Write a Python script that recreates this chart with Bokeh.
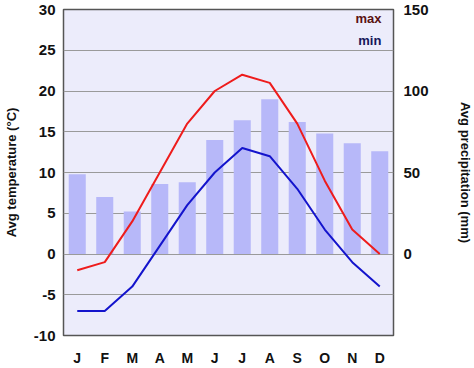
from bokeh.plotting import figure
from bokeh.models import Range1d, LinearAxis, FixedTicker, Label
from bokeh.embed import file_html
from bokeh.resources import INLINE

months = ["J", "F", "M", "A", "M", "J", "J", "A", "S", "O", "N", "D"]
month_idx = list(range(1, 13))
temp_max = [-2, -1, 4, 10, 16, 20, 22, 21, 16, 9, 3, 0]
temp_min = [-7, -7, -4, 1, 6, 10, 13, 12, 8, 3, -1, -4]
precip = [49, 35, 26, 43, 44, 70, 82, 95, 81, 74, 68, 63]
temp_ticks = [-10, -5, 0, 5, 10, 15, 20, 25, 30]
precip_ticks = [0, 50, 100, 150]

FONT = "Liberation Sans"

p = figure(frame_width=330, frame_height=326,
           x_range=Range1d(0.5, 12.5), y_range=Range1d(-10, 30),
           output_backend="svg", toolbar_location=None,
           min_border_left=62, min_border_top=9, min_border_right=72, min_border_bottom=30)
p.margin = (0, 0, 0, 0)
p.extra_y_ranges = {"precip": Range1d(-50, 150)}

p.border_fill_color = "#ffffff"
p.background_fill_color = "#ececfb"
p.outline_line_color = "#555555"
p.outline_line_width = 1.5

p.xgrid.grid_line_color = None
p.ygrid.ticker = FixedTicker(ticks=temp_ticks)
p.ygrid.grid_line_color = "#9a9a9a"
p.ygrid.grid_line_width = 1

p.vbar(x=month_idx, top=precip, bottom=0, width=0.62, y_range_name="precip",
       fill_color="#b7b8f9", line_color=None)
p.line(month_idx, temp_max, line_color="#ee1c1c", line_width=2)
p.line(month_idx, temp_min, line_color="#1414cc", line_width=2)

def style_axis(ax, fs):
    ax.axis_line_color = None
    ax.major_tick_line_color = None
    ax.minor_tick_line_color = None
    ax.major_tick_out = 0
    ax.major_tick_in = 0
    ax.major_label_text_font = FONT
    ax.major_label_text_font_style = "bold"
    ax.major_label_text_font_size = fs
    ax.major_label_text_color = "#111111"
    ax.axis_label_text_font = FONT
    ax.axis_label_text_font_style = "bold"
    ax.axis_label_text_font_size = "13px"
    ax.axis_label_text_color = "#111111"

# x axis
xa = p.xaxis[0]
xa.ticker = FixedTicker(ticks=month_idx)
xa.major_label_overrides = {i: m for i, m in zip(month_idx, months)}
style_axis(xa, "14px")
xa.major_label_standoff = 14

# left axis
ya = p.yaxis[0]
ya.ticker = FixedTicker(ticks=temp_ticks)
ya.major_label_overrides = {t: str(t) for t in temp_ticks}
ya.axis_label = "Avg temperature (°C)"
style_axis(ya, "15px")
ya.major_label_standoff = 8
ya.axis_label_standoff = 12

# right axis
ra = LinearAxis(y_range_name="precip", ticker=FixedTicker(ticks=precip_ticks),
                axis_label="Avg precipitation (mm)")
style_axis(ra, "15px")
ra.major_label_standoff = 10
ra.axis_label_standoff = 26
p.add_layout(ra, "right")

p.add_layout(Label(x=12.06, y=28.9, text="max", text_align="right", text_baseline="middle",
                   text_font=FONT, text_font_style="bold", text_font_size="13px",
                   text_color="#5a1212"))
p.add_layout(Label(x=12.06, y=26.2, text="min", text_align="right", text_baseline="middle",
                   text_font=FONT, text_font_style="bold", text_font_size="13px",
                   text_color="#16165a"))

open("out.html", "w").write(file_html(p, INLINE))
